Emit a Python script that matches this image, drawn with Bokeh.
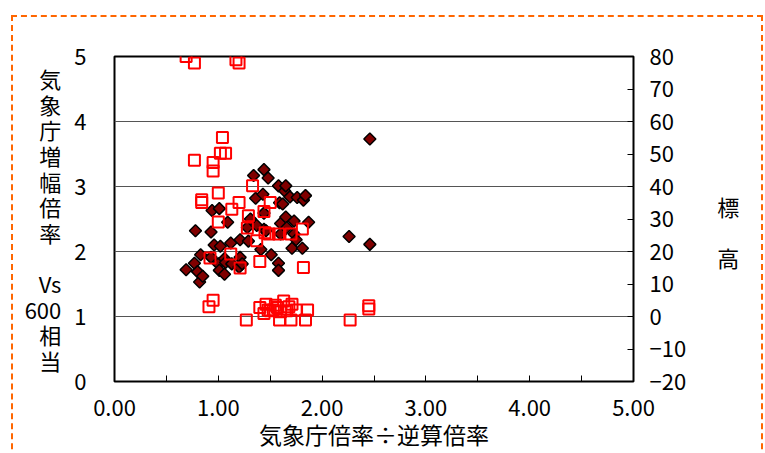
from bokeh.plotting import figure
from bokeh.models import Range1d, LinearAxis, FixedTicker, InlineStyleSheet
from bokeh.embed import file_html
from bokeh.resources import INLINE
import numpy as np

# ---------------- data ----------------
# series 1: 気象庁増幅倍率 (Vs600相当)  -> left axis
amp_ratio_x = [0.69, 0.77, 0.78, 0.80, 0.82, 0.83, 0.85, 0.93, 0.93, 0.94, 0.96, 1.00, 1.01, 1.01,
               1.02, 1.06, 1.06, 1.07, 1.09, 1.12, 1.13, 1.20, 1.21, 1.21, 1.23, 1.28, 1.29, 1.31,
               1.34, 1.36, 1.37, 1.41, 1.43, 1.44, 1.44, 1.44, 1.46, 1.48, 1.51, 1.58, 1.58, 1.58,
               1.59, 1.60, 1.60, 1.62, 1.64, 1.65, 1.65, 1.66, 1.69, 1.71, 1.73, 1.73, 1.75, 1.76,
               1.81, 1.82, 1.84, 1.87, 2.26, 2.46, 2.46]
amp_ratio_y = [1.72, 1.82, 2.32, 1.69, 1.53, 1.95, 1.62, 2.30, 1.91, 2.63, 2.10, 1.81, 2.66, 1.71,
               2.08, 1.89, 1.65, 1.83, 2.45, 2.13, 1.81, 1.76, 2.18, 1.91, 1.81, 2.37, 2.16, 2.50,
               3.17, 2.82, 2.40, 2.03, 2.88, 3.26, 2.59, 2.34, 2.32, 3.13, 1.95, 3.01, 1.82, 1.71,
               2.75, 2.43, 2.27, 2.73, 2.93, 3.01, 2.53, 2.37, 2.84, 2.05, 2.47, 2.27, 2.18, 2.83,
               2.05, 2.79, 2.86, 2.45, 2.23, 2.11, 3.73]

# series 2: 標高 -> right axis
elev_x = [0.69, 0.77, 1.17, 1.20, 1.04, 1.02, 1.07, 0.77, 0.95, 0.95, 1.00, 0.84, 0.84, 1.33,
          1.20, 1.13, 1.00, 1.29, 1.28, 1.44, 1.50, 1.37, 1.45, 1.49, 1.58, 1.70, 1.81, 0.92,
          1.12, 1.21, 1.40, 1.82,
          0.95, 0.91, 1.27, 1.40, 1.46, 1.44, 1.48, 1.50, 1.53, 1.55, 1.57, 1.60, 1.63, 1.59,
          1.66, 1.68, 1.71, 1.70, 1.75, 1.86, 1.84, 2.27, 2.45, 2.45]
elev_y = [80.0, 78.0, 79.0, 78.0, 55.1, 50.2, 50.2, 48.1, 47.4, 44.8, 38.0, 35.9, 35.1, 40.2,
          35.1, 33.0, 29.1, 31.0, 27.2, 32.3, 35.1, 23.3, 25.8, 25.4, 25.4, 25.4, 26.9, 18.0,
          19.2, 14.9, 16.9, 15.1,
          5.0, 3.0, -1.1, 2.8, 3.8, 0.9, 2.0, 1.8, 2.0, 3.5, 2.8, 1.5, 4.8, -1.1,
          1.8, 3.0, 3.8, -1.1, 2.0, 2.0, -1.1, -1.1, 3.3, 2.3]

x_ticks = [0, 1, 2, 3, 4, 5]
x_tick_labels = ["0.00", "1.00", "2.00", "3.00", "4.00", "5.00"]
x_minor_ticks = [0.5, 1.5, 2.5, 3.5, 4.5]
left_ticks = [0, 1, 2, 3, 4, 5]
grid_ticks = [1, 2, 3, 4]
right_ticks = [-20, -10, 0, 10, 20, 30, 40, 50, 60, 70, 80]
right_tick_labels = ["\u221220", "\u221210", "0", "10", "20", "30", "40", "50", "60", "70", "80"]

left_label = "気\n象\n庁\n増\n幅\n倍\n率\n\nVs\n600\n相\n当"
right_label = "\n標\n\n高"
x_label = "気象庁倍率÷逆算倍率"

FONT = "Noto Sans CJK JP"
FS = "22px"

# ---------------- figure ----------------
p = figure(width=765, height=453, x_range=Range1d(0, 5), y_range=Range1d(0, 5),
           output_backend="svg", toolbar_location=None,
           min_border_left=114, min_border_right=132, min_border_top=56, min_border_bottom=72)
p.extra_y_ranges = {"elev": Range1d(-20, 80)}
p.background_fill_color = "white"
p.border_fill_color = "white"
p.outline_line_color = "black"
p.outline_line_width = 2
p.outline_line_alpha = 1

# orange dashed frame around the whole chart (pure CSS decoration)
p.stylesheets = [InlineStyleSheet(css="""
:host { position: relative; }
:host::after {
  content: "";
  position: absolute;
  left: 11px; top: 15px; width: 748px; height: 470px;
  border: 2.5px dashed #ff6600;
  pointer-events: none;
  z-index: 10;
}
""")]

# grid
p.xgrid.grid_line_color = None
p.ygrid.ticker = FixedTicker(ticks=grid_ticks)
p.ygrid.grid_line_color = "#555555"
p.ygrid.grid_line_width = 1

# bottom axis
xa = p.xaxis[0]
xa.ticker = FixedTicker(ticks=x_ticks, minor_ticks=x_minor_ticks)
xa.major_label_overrides = {t: l for t, l in zip(x_ticks, x_tick_labels)}
xa.axis_line_color = None
xa.major_tick_in = 6
xa.major_tick_out = 0
xa.minor_tick_in = 6
xa.minor_tick_out = 0
xa.major_tick_line_color = "black"
xa.minor_tick_line_color = "black"
xa.major_label_standoff = 18
xa.major_label_text_font = FONT
xa.major_label_text_font_size = FS
xa.major_label_text_color = "black"
xa.axis_label = x_label
xa.axis_label_standoff = -2
xa.axis_label_text_font = FONT
xa.axis_label_text_font_size = "23px"
xa.axis_label_text_font_style = "normal"
xa.axis_label_text_color = "black"

# left axis
ya = p.yaxis[0]
ya.ticker = FixedTicker(ticks=left_ticks)
ya.axis_line_color = None
ya.major_tick_in = 0
ya.major_tick_out = 0
ya.minor_tick_line_color = None
ya.major_label_standoff = 28
ya.major_label_text_font = FONT
ya.major_label_text_font_size = FS
ya.major_label_text_color = "black"
ya.axis_label = left_label
ya.axis_label_orientation = "horizontal"
ya.axis_label_standoff = 10
ya.axis_label_text_font = FONT
ya.axis_label_text_font_size = FS
ya.axis_label_text_font_style = "normal"
ya.axis_label_text_color = "black"
ya.axis_label_text_line_height = 0.8

# right axis
ra = LinearAxis(y_range_name="elev", ticker=FixedTicker(ticks=right_ticks))
ra.major_label_overrides = {t: l for t, l in zip(right_ticks, right_tick_labels)}
ra.axis_line_color = None
ra.major_tick_in = 6
ra.major_tick_out = 0
ra.major_tick_line_color = "black"
ra.minor_tick_line_color = None
ra.major_label_standoff = 16
ra.major_label_text_font = FONT
ra.major_label_text_font_size = FS
ra.major_label_text_color = "black"
ra.axis_label = right_label
ra.axis_label_orientation = "horizontal"
ra.axis_label_standoff = 28
ra.axis_label_text_font = FONT
ra.axis_label_text_font_size = FS
ra.axis_label_text_font_style = "normal"
ra.axis_label_text_color = "black"
ra.axis_label_text_line_height = 0.8
p.add_layout(ra, "right")

# data
p.scatter(amp_ratio_x, amp_ratio_y, marker="square", size=8.5, angle=np.pi / 4,
          fill_color="#800000", line_color="black", line_width=1.5)
p.scatter(elev_x, elev_y, y_range_name="elev", marker="square", size=11,
          fill_color=None, line_color="#ff0000", line_width=2)

open("out.html", "w").write(file_html(p, INLINE))
